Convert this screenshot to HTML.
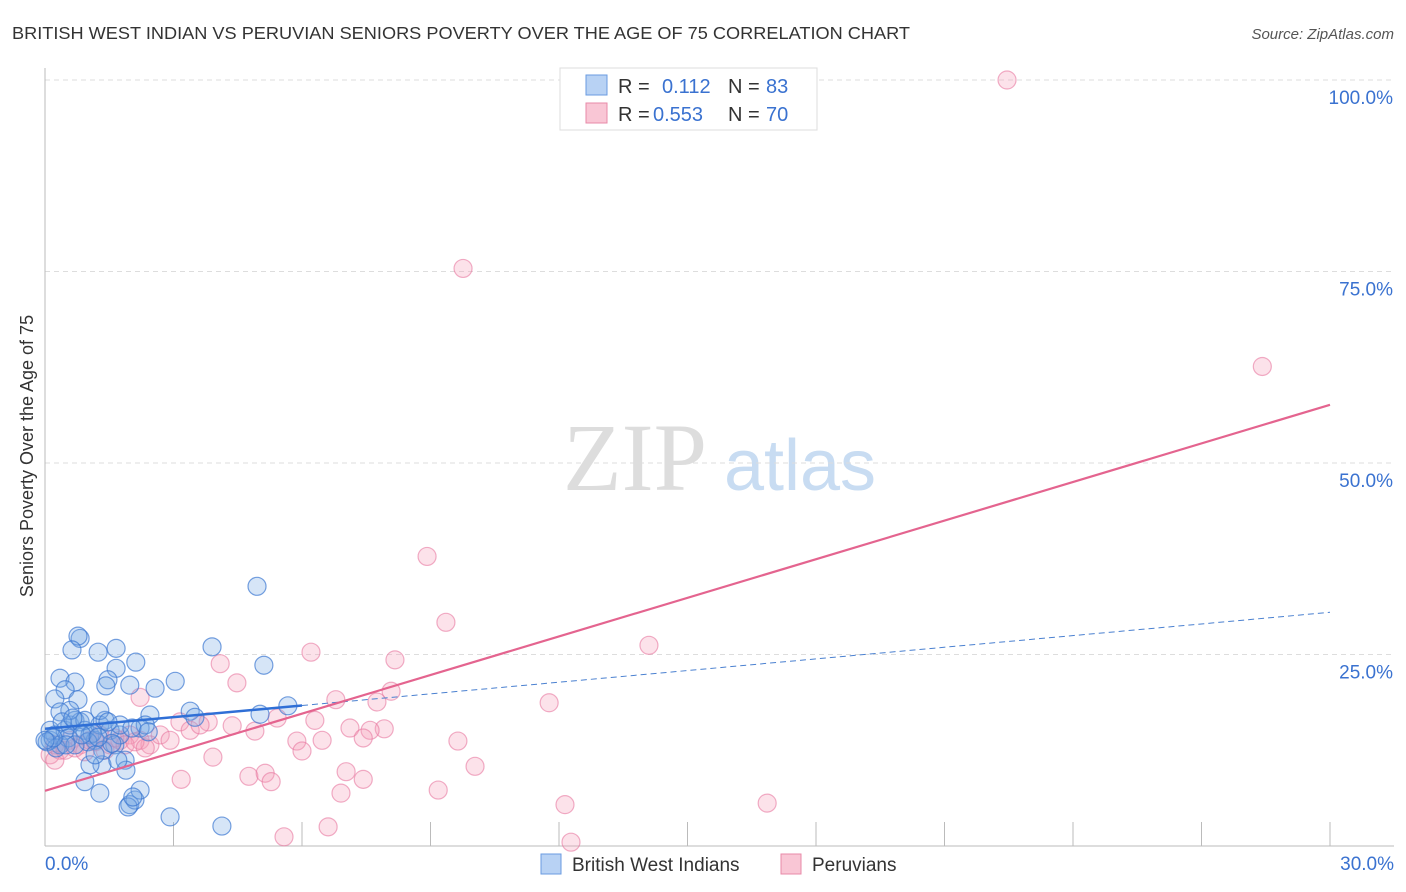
<!DOCTYPE html>
<html><head><meta charset="utf-8"><style>
body{margin:0;background:#fff;font-family:"Liberation Sans",sans-serif;}
svg{display:block}
</style></head><body>
<svg id="chart" width="1406" height="892">
<text x="12" y="39" font-size="17.5" fill="#333" textLength="898" lengthAdjust="spacingAndGlyphs">BRITISH WEST INDIAN VS PERUVIAN SENIORS POVERTY OVER THE AGE OF 75 CORRELATION CHART</text>
<text x="1394" y="39" font-size="15" fill="#555" font-style="italic" text-anchor="end">Source: ZipAtlas.com</text>
<g><text x="635" y="490" font-size="96" font-family="Liberation Serif,serif" fill="#ddd" text-anchor="middle">ZIP</text><text x="800" y="490" font-size="72" fill="#c8dcf2" text-anchor="middle">atlas</text></g>
<g id="grid"></g>
<g id="axes"></g>
<g id="marks"></g>
<text transform="translate(33,456) rotate(-90)" font-size="18" fill="#333" text-anchor="middle">Seniors Poverty Over the Age of 75</text>
<g>
<rect x="560" y="68" width="257" height="62" fill="#fff" stroke="#ddd"/>
<rect x="586" y="75" width="21" height="20" fill="#b8d2f4" stroke="#6a9be0"/>
<rect x="586" y="103" width="21" height="20" fill="#f9c6d5" stroke="#e88aa8"/>
<text x="618" y="93" font-size="20" fill="#333">R =</text><text x="662" y="93" font-size="20" fill="#3a72d0">0.112</text>
<text x="728" y="93" font-size="20" fill="#333">N =</text><text x="766" y="93" font-size="20" fill="#3a72d0">83</text>
<text x="618" y="121" font-size="20" fill="#333">R =</text><text x="653" y="121" font-size="20" fill="#3a72d0">0.553</text>
<text x="728" y="121" font-size="20" fill="#333">N =</text><text x="766" y="121" font-size="20" fill="#3a72d0">70</text>
</g>
<g>
<rect x="541" y="854" width="20" height="20" fill="#b8d2f4" stroke="#6a9be0"/>
<text x="572" y="871" font-size="19" fill="#333">British West Indians</text>
<rect x="781" y="854" width="20" height="20" fill="#f9c6d5" stroke="#e88aa8"/>
<text x="812" y="871" font-size="19" fill="#333">Peruvians</text>
</g>
</svg>
<script>
const blueX=[0.12,0.23,0.35,0.47,0.58,0.70,0.82,0.93,1.05,1.17,1.28,1.40,1.52,1.63,1.75,1.87,1.98,2.10,2.22,2.45,2.57,3.04,2.92,3.39,3.50,3.90,4.13,4.95,5.11,5.02,5.67,0.82,0.77,0.63,1.24,1.66,2.12,1.66,1.47,1.42,1.98,0.35,0.70,0.47,0.23,0.77,0.58,0.35,1.28,0.93,1.10,1.33,1.28,0.93,1.94,1.89,1.35,1.05,2.22,2.34,0.12,0.05,0.40,0.54,1.00,1.56,1.75,0.26,0.70,1.17,0.86,2.03,2.41,0.65,0.49,0.19,1.24,1.47,1.70,2.05,0];
const blueY=[13.8,14.5,13.2,15.1,15.8,16.4,16.2,15.1,14.5,13.8,15.8,16.4,15.1,13.2,14.5,11.2,5.4,6.0,7.3,17.1,20.6,21.5,3.8,17.6,16.8,26.0,2.6,33.9,23.6,17.2,18.3,27.1,27.4,25.6,25.3,25.8,24.0,23.2,21.7,20.9,21.0,21.9,21.4,20.4,19.2,19.1,17.7,17.5,17.7,16.4,14.7,10.6,6.9,8.4,5.1,9.9,12.5,10.6,15.4,15.8,15.1,13.6,16.2,14.1,13.6,13.4,15.8,12.8,13.2,11.9,14.5,15.4,14.9,16.7,13.2,14.1,14.2,16.2,11.2,6.4,13.8];
const pinkX=[22.46,9.76,28.42,8.92,9.36,14.10,6.21,8.17,4.09,4.48,2.22,8.08,7.75,6.79,11.77,5.42,6.30,3.81,4.37,4.90,7.12,7.92,7.59,7.43,5.88,6.47,9.64,6.00,3.92,3.18,4.76,5.14,5.28,7.03,7.43,6.91,9.18,10.04,12.14,16.86,5.58,6.61,12.28,0.12,0.23,0.35,0.58,0.82,1.05,1.28,1.52,1.75,1.98,2.22,2.45,2.69,2.92,3.15,3.39,3.62,0.23,0.47,0.70,0.93,1.17,1.40,1.63,1.87,2.10,2.34];
const pinkY=[100,75.4,62.6,37.8,29.2,26.2,25.3,24.3,23.8,21.3,19.4,20.2,18.8,19.1,18.7,16.7,16.4,16.2,15.7,15.0,15.4,15.3,15.1,14.1,13.7,13.8,13.7,12.4,11.6,8.7,9.1,9.5,8.4,9.7,8.7,6.9,7.3,10.4,5.4,5.6,1.2,2.5,0.5,11.9,13.2,12.5,13.8,13.2,13.8,14.5,13.2,13.8,14.5,13.8,13.2,14.5,13.8,16.2,15.1,15.8,11.2,12.5,12.8,12.3,13.6,12.5,14.1,13.2,13.6,12.8];
const blueTrend=[15.3,0.507];
const pinkTrend=[7.2,1.68];
const yTicks=[25,50,75,100];
const yTickLabels=["25.0%","50.0%","75.0%","100.0%"];
const xTicks=[0,3,6,9,12,15,18,21,24,27,30];

const NS="http://www.w3.org/2000/svg";
const sx=v=>45+v/30*1285;
const sy=v=>846-v/100*766;
function mk(tag,attrs,parent){const e=document.createElementNS(NS,tag);for(const k in attrs)e.setAttribute(k,attrs[k]);parent.appendChild(e);return e;}
const grid=document.getElementById('grid'),axes=document.getElementById('axes'),marks=document.getElementById('marks');
yTicks.forEach((t,i)=>{
 const l=mk('line',{x1:45,x2:1394,y1:sy(t),y2:sy(t),stroke:'#ddd','stroke-dasharray':'5,4'},grid);
 
 
 const tx=mk('text',{x:1393,y:sy(t)+24,'font-size':19,fill:'#3a72d0','text-anchor':'end'},axes);
 tx.textContent=yTickLabels[i];
 
 
});
const ax=mk('line',{x1:45,x2:45,y1:68,y2:846,stroke:'#bbb'},axes);


const bx=mk('line',{x1:45,x2:1394,y1:846,y2:846,stroke:'#bbb'},axes);


xTicks.forEach(t=>{
 const l=mk('line',{x1:sx(t),x2:sx(t),y1:822,y2:846,stroke:'#bbb'},axes);
 
 
});
[[0,'0.0%','start',45],[30,'30.0%','end',1394]].forEach(a=>{
 const t=mk('text',{x:a[3],y:870,'font-size':19,fill:'#3a72d0','text-anchor':a[2]},axes);
 t.textContent=a[1];
 
 
});
pinkX.forEach((x,i)=>{
 const c=mk('circle',{cx:sx(x),cy:sy(pinkY[i]),r:9,fill:'rgba(244,160,186,0.3)',stroke:'rgba(232,120,160,0.6)','stroke-width':1.2},marks);
 
 
});
blueX.forEach((x,i)=>{
 const c=mk('circle',{cx:sx(x),cy:sy(blueY[i]),r:9,fill:'rgba(120,170,230,0.3)',stroke:'rgba(60,120,210,0.7)','stroke-width':1.2},marks);
 
 
});
const bl=mk('line',{x1:sx(0),y1:sy(blueTrend[0]),x2:sx(6),y2:sy(blueTrend[0]+6*blueTrend[1]),stroke:'#2f6fd6','stroke-width':2.5},marks);


const bd=mk('line',{x1:sx(6),y1:sy(blueTrend[0]+6*blueTrend[1]),x2:sx(30),y2:sy(blueTrend[0]+30*blueTrend[1]),stroke:'#4a80d0','stroke-width':1,'stroke-dasharray':'6,4'},marks);


const pl=mk('line',{x1:sx(0),y1:sy(pinkTrend[0]),x2:sx(30),y2:sy(pinkTrend[0]+30*pinkTrend[1]),stroke:'#e4648f','stroke-width':2.2},marks);


</script>
</body></html>
